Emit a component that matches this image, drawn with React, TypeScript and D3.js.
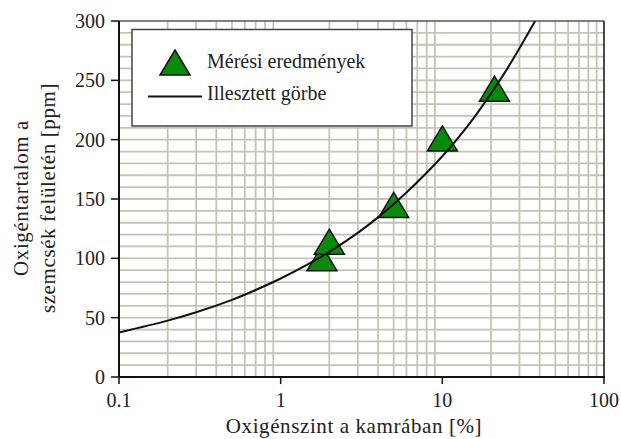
import React from "react";
import * as d3 from "d3";

// Oxygen level in the chamber [%] and oxygen content on the particle surface [ppm]
const measuredLevel = [1.8, 2, 5, 10, 21];
const measuredContent = [100, 114, 145, 201, 243];

// Fitted curve, sampled along the line
const fitLevel = [0.1, 0.2, 0.3, 0.5, 0.7, 1, 1.5, 2, 3, 4, 6, 10, 15, 20, 25, 30, 37.5];
const fitContent = [37.5, 47.5, 54.5, 65, 73.3, 83, 95.5, 105.5, 121.5, 134.5, 155.5, 186, 215, 239, 259, 277, 300];

const xTicks = [0.1, 1, 10, 100];
const xTickLabels = ["0.1", "1", "10", "100"];
const yTicks = [0, 50, 100, 150, 200, 250, 300];

const legendLabels = ["Mérési eredmények", "Illesztett görbe"];
const xTitle = "Oxigénszint a kamrában [%]";
const yTitleLines = ["Oxigéntartalom a", "szemcsék felületén [ppm]"];

const W = 621;
const H = 439;
const left = 119;
const right = 604;
const top = 21;
const bottom = 377;

const FONT = '"Liberation Serif", "Times New Roman", serif';
const GREEN = "#0a8a0a";
const GRID = "#c4c4b6";

function triangle(cx: number, cy: number, w = 30, h = 25) {
  return `M${cx},${cy - h / 2}L${cx + w / 2},${cy + h / 2}L${cx - w / 2},${cy + h / 2}Z`;
}

export default function App() {
  const x = d3.scaleLog().domain([0.1, 100]).range([left, right]);
  const y = d3.scaleLinear().domain([0, 300]).range([bottom, top]);

  // minor log gridlines (2..9 in each decade)
  const minorX: number[] = [];
  [0.1, 1, 10].forEach((d) => {
    for (let k = 2; k <= 9; k++) minorX.push(d * k);
  });
  const gridY = d3.range(10, 300, 10);

  const fitPoints: [number, number][] = fitLevel.map((v, i) => [x(v), y(fitContent[i])]);
  const line = d3.line().curve(d3.curveCatmullRom.alpha(0.5))(fitPoints) || "";

  const textStyle = { fontFamily: FONT };

  return (
    <svg
      width={W}
      height={H}
      style={{ position: "absolute", left: 0, top: 0, background: "#fff", fontFamily: FONT }}
    >
      <rect x={0} y={0} width={W} height={H} fill="#fff" />
      <defs>
        <clipPath id="plotClip">
          <rect x={left} y={top} width={right - left} height={bottom - top} />
        </clipPath>
      </defs>

      {/* grid */}
      {minorX.map((v) => (
        <line key={"gx" + v} x1={x(v)} x2={x(v)} y1={top} y2={bottom} stroke={GRID} strokeWidth={1.8} />
      ))}
      {gridY.map((v) => (
        <line key={"gy" + v} x1={left} x2={right} y1={y(v)} y2={y(v)} stroke={GRID} strokeWidth={1.8} />
      ))}

      {/* frame */}
      <line x1={left} x2={right} y1={top} y2={top} stroke="#555" strokeWidth={1.5} />
      <line x1={right} x2={right} y1={top} y2={bottom} stroke="#111" strokeWidth={1.5} />
      <line x1={left} x2={left} y1={top} y2={bottom + 1} stroke="#111" strokeWidth={2} />
      <line x1={left - 1} x2={right + 1} y1={bottom} y2={bottom} stroke="#111" strokeWidth={2} />

      {/* y axis ticks */}
      {yTicks.map((v) => (
        <g key={"yt" + v}>
          <line x1={left - 8} x2={left} y1={y(v)} y2={y(v)} stroke="#111" strokeWidth={1.5} />
          <text x={105} y={y(v)} dy="0.35em" textAnchor="end" fontSize={20} fill="#222" style={textStyle}>
            {v}
          </text>
        </g>
      ))}

      {/* x axis ticks */}
      {xTicks.map((v, i) => (
        <g key={"xt" + v}>
          <line x1={x(v)} x2={x(v)} y1={bottom} y2={bottom + 7} stroke="#111" strokeWidth={1.5} />
          <text x={x(v)} y={407} textAnchor="middle" fontSize={20} fill="#222" style={textStyle}>
            {xTickLabels[i]}
          </text>
        </g>
      ))}

      {/* measured points, with the fitted curve over them */}
      <g clipPath="url(#plotClip)">
        {measuredLevel.map((v, i) => (
          <path
            key={"m" + i}
            d={triangle(x(v), y(measuredContent[i]))}
            fill={GREEN}
            stroke="#111"
            strokeWidth={1.5}
          />
        ))}
        <path d={line} fill="none" stroke="#111" strokeWidth={2} />
      </g>

      {/* legend */}
      <rect x={132} y={29.5} width={280} height={96.5} fill="#fff" stroke="#444" strokeWidth={1.5} />
      <path d={triangle(175, 62.5)} fill={GREEN} stroke="#111" strokeWidth={1.5} />
      <text x={207} y={68} fontSize={20} fill="#222" style={textStyle}>
        {legendLabels[0]}
      </text>
      <line x1={148} x2={202} y1={96.5} y2={96.5} stroke="#111" strokeWidth={2} />
      <text x={207} y={100} fontSize={20} fill="#222" style={textStyle}>
        {legendLabels[1]}
      </text>

      {/* axis titles */}
      <text x={354} y={433} textAnchor="middle" fontSize={21} letterSpacing={0.6} fill="#222" style={textStyle}>
        {xTitle}
      </text>
      {yTitleLines.map((t, i) => (
        <text
          key={"yl" + i}
          transform={`translate(${28 + i * 27},198) rotate(-90)`}
          textAnchor="middle"
          fontSize={21}
          letterSpacing={0.6}
          fill="#222"
          style={textStyle}
        >
          {t}
        </text>
      ))}
    </svg>
  );
}
